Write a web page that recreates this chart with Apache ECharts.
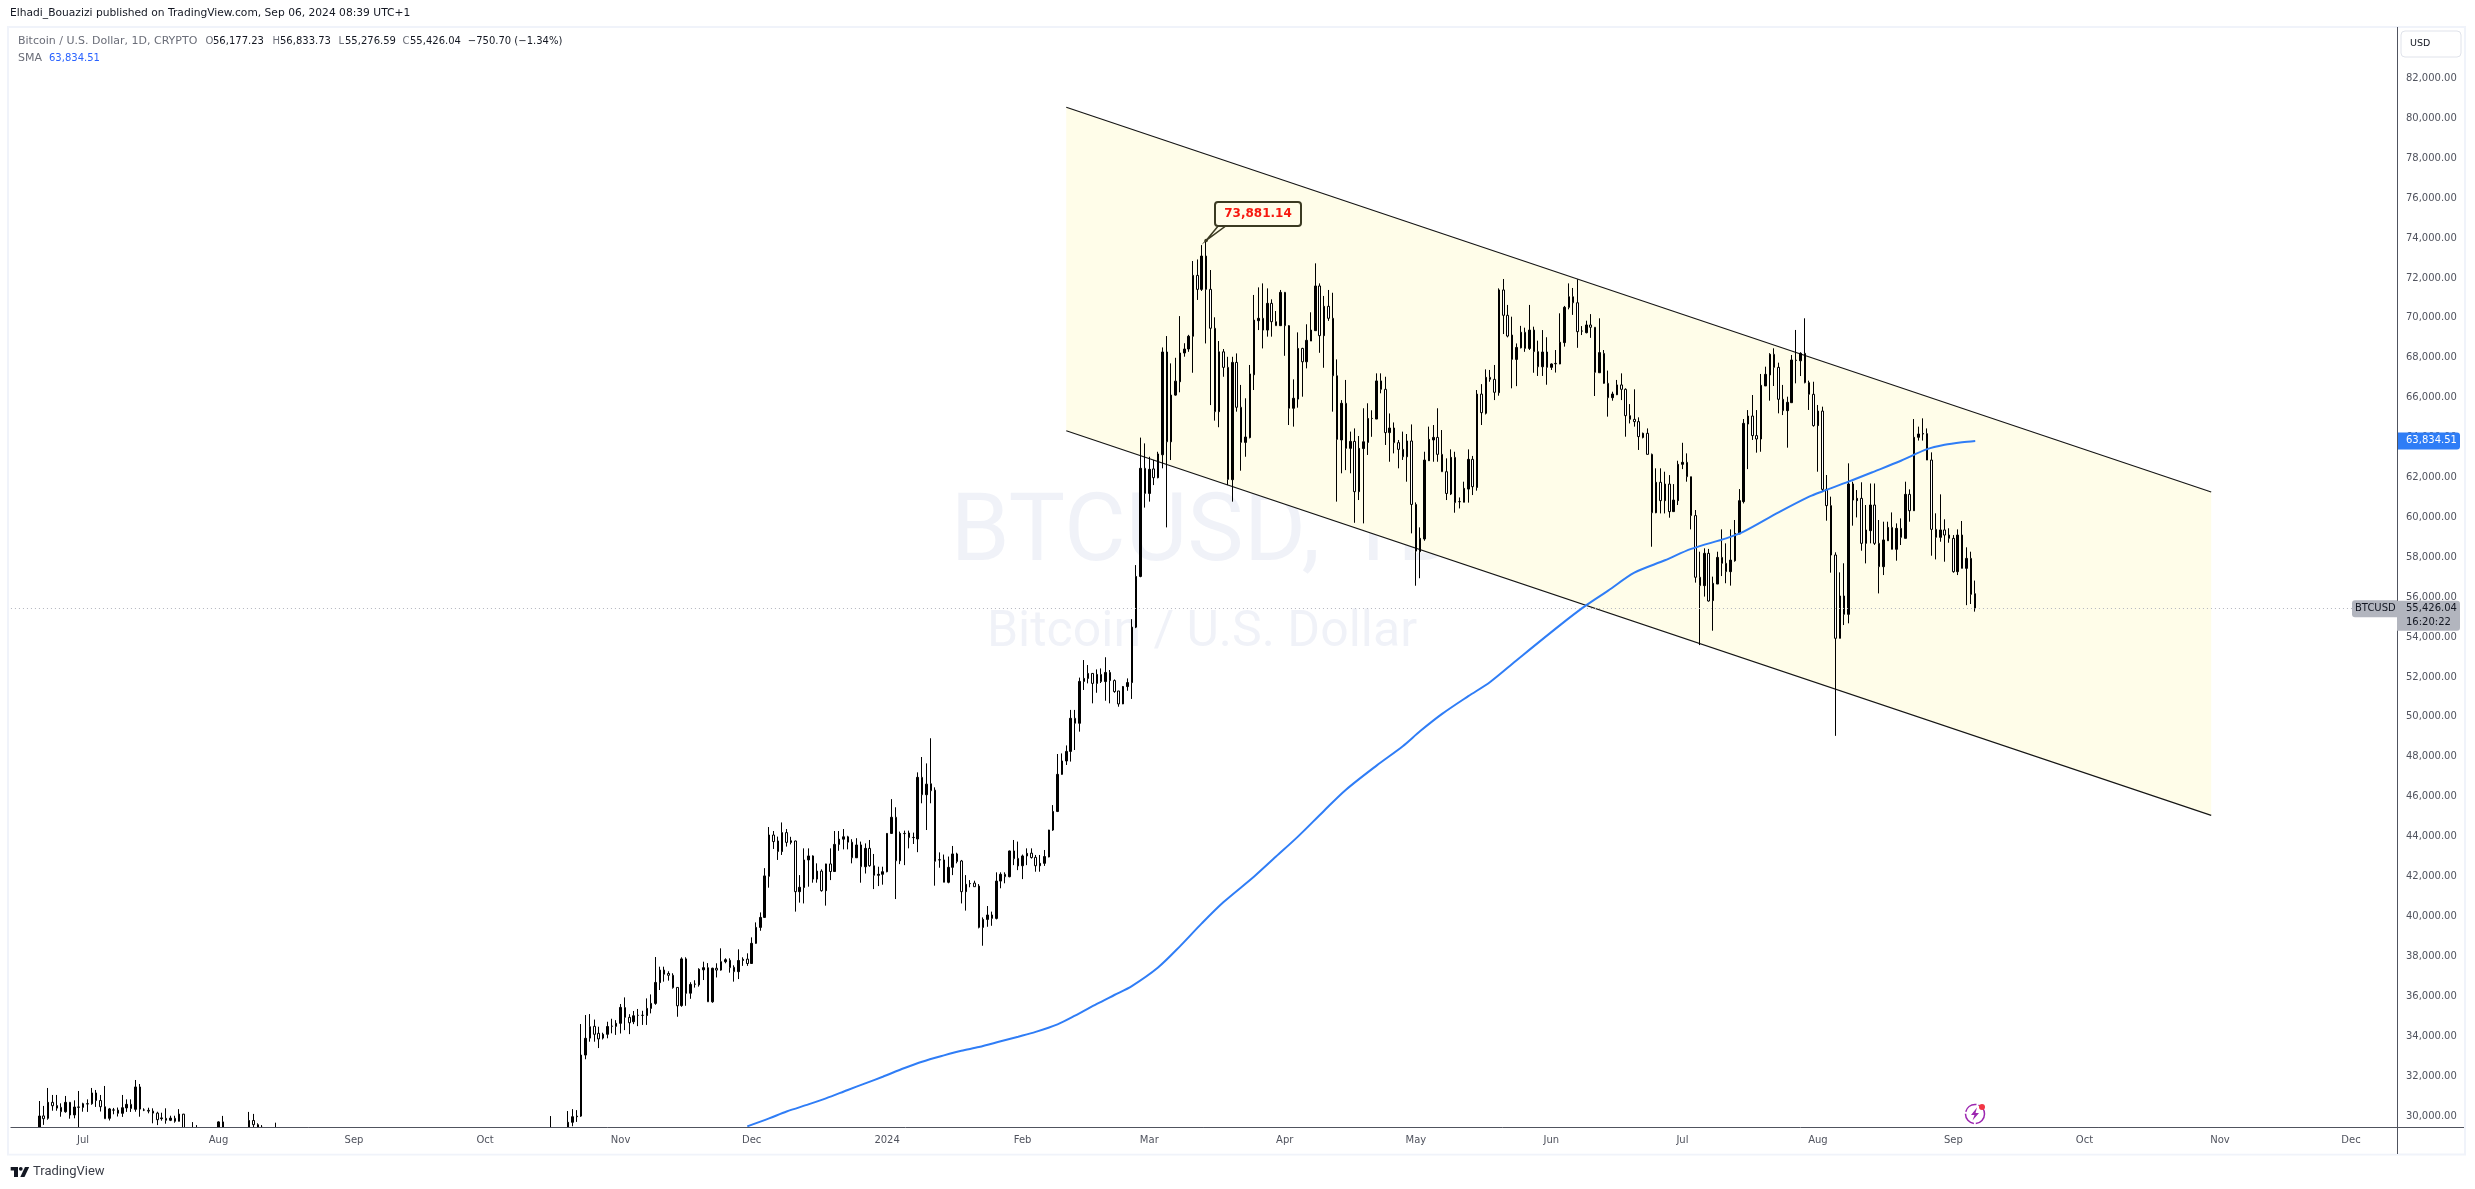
<!DOCTYPE html>
<html><head><meta charset="utf-8">
<style>html,body{margin:0;padding:0;background:#fff}#c{width:2475px;height:1189px}</style>
<script src="https://cdn.jsdelivr.net/npm/echarts@6/dist/echarts.min.js"></script>
</head><body><div id="c"></div>
<script>
// Each row: [open, high, low, close]
const jun23=[[28300,30747,28250,29995],[30000,30500,29550,29860],[29880,31400,29810,30680],[30680,31050,30260,30510],[30520,31050,30260,30390],[30430,30630,29960,30210],[30210,31000,30160,30680],[30680,30700,29860,30045],[30050,30780,29880,30445],[30450,31250,29400,30430]];
const jul23=[[30430,30660,30210,30610],[30600,30830,30200,30610],[30610,31400,30560,31150],[31150,31300,30450,30770],[30770,31050,30220,30460],[30460,31500,29860,29860],[29880,30400,29770,30350],[30300,30400,30080,30290],[30290,30420,29970,30130],[30130,31050,29950,30410],[30400,30830,30200,30580],[30580,30830,30200,30370],[30330,31800,30210,31450],[31450,31600,29960,30340],[30300,30380,30240,30290],[30280,30410,30130,30240],[30240,30380,29630,30140],[30140,30210,29540,29810],[29860,30160,29760,29900],[29880,30380,29610,29780],[29780,30010,29740,29890],[29880,30010,29660,29730],[29730,30340,29730,30090],[30090,30100,28900,29170]];
const julLate23=[[29220,29690,29090,29350],[29350,29540,29200,29210]];
const augA23=[[29000,29730,28600,29700],[29700,30000,28950,29170]];
const augB23=[[29180,30200,29120,29770],[29770,30100,29350,29560],[29560,29630,29320,29430],[29430,29540,29240,29400]];
const augC23=[[29170,29660,28700,29200]];
const octA23=[[28400,29993,28300,28500]];
const octB23=[[28700,30244,28600,29680],[29680,30340,29480,29960],[29960,30290,29700,29990],[29990,34605,29950,33050],[33050,35056,32840,33890],[33900,35105,33720,34470],[34490,34830,33720,34090],[34140,34470,33400,33860],[33900,34170,33830,34090],[34090,34720,33890,34480],[34500,34870,34140,34490],[34490,34800,34060,34640]];
const nov23=[[34640,35610,34130,35440],[35430,35940,34300,34940],[34940,35100,34100,34670],[34720,35260,34600,35020],[35040,35360,34500,35040],[35040,35270,34560,35040],[35030,35890,34560,35390],[35390,36090,35140,35640],[35640,37964,35570,36690],[36680,37480,36310,37310],[37310,37480,36730,37100],[37140,37250,36780,37050],[37050,37150,36380,36430],[36440,36450,34970,35520],[35530,37950,35470,37870],[37870,37950,35520,36140],[36150,36700,35870,36590],[36600,36800,36430,36610],[36570,37400,36480,37350],[37320,37730,36810,37430],[37430,37660,35720,35720],[35720,37430,35670,37400],[37400,37650,36940,37310],[37310,38400,37280,37730],[37730,37900,37650,37830],[37800,37900,37180,37430],[37450,37550,36730,37230],[37230,38350,36860,37790],[37790,37950,37520,37850],[37860,38150,37520,37640]];
const dec23=[[37640,38950,37640,38650],[38650,39700,38630,39450],[39450,40200,39280,39950],[39950,42420,39920,42030],[42010,44480,41440,44080],[44080,44280,43380,43750],[43780,44000,42830,43250],[43250,44710,43080,44200],[44200,44380,43500,43710],[43710,43990,43610,43790],[43780,43800,40240,41240],[41240,42070,40690,41460],[41450,43410,40650,42830],[42830,43410,41490,43030],[43030,43060,41690,41870],[41870,42660,41690,42270],[42270,42360,41240,41290],[41290,42640,40540,42630],[42630,43410,41820,42250],[42250,44280,42240,43610],[43610,44280,43290,43870],[43870,44380,43360,43990],[43990,44040,43360,43720],[43720,43870,42660,42940],[42940,43920,42930,43580],[43580,43750,41690,42490],[42490,43660,42150,43410],[43410,43830,42490,42540],[42540,43130,41370,42060],[42060,42490,41520,42110],[42110,42490,41590,42240]];
const jan24=[[42240,44170,42210,44160],[44160,45880,44130,44970],[44970,45470,40870,42790],[42790,44250,42620,44160],[44160,44300,42570,44150],[44180,44300,43410,43950],[43950,44200,43630,43960],[43880,47220,43220,46970],[46970,47990,45670,46100],[46100,47670,44330,46630],[46650,48930,45670,46300],[46330,46470,41540,42760],[42830,43210,42440,42840],[42830,43100,41710,41710],[41710,43000,41660,42460],[42460,43530,42070,43130],[43130,43190,42660,42750],[42780,42830,40650,41240],[41240,42070,40290,41610],[41640,41820,41460,41650],[41670,41790,41490,41490],[41520,41620,39400,39450],[39450,39950,38530,39850],[39850,40520,39480,40070],[40070,40240,39530,39900],[39900,42210,39850,41770],[41770,42210,41410,42110],[42110,42210,41660,41990],[41990,43300,41960,43280],[43280,43830,42570,42890],[42910,43750,42320,42530]];
const feb24=[[42540,43100,41870,43030],[43030,43410,42570,43160],[43170,43410,42900,42950],[42960,43080,42240,42540],[42540,43080,42240,42660],[42660,43330,42530,43000],[42980,44340,42960,44330],[44330,45580,44290,45260],[45260,48140,45230,47120],[47120,48170,47100,47790],[47790,48570,47590,48270],[48270,50350,47760,49930],[49930,50350,48340,49680],[49680,51970,49260,51780],[51780,52850,51350,51930],[51930,52600,51680,52180],[52180,52180,50680,51680],[51680,52380,51210,52130],[52130,52430,51700,51770],[51770,52990,50810,52230],[52230,52350,50680,51820],[51820,51880,51210,51270],[51300,51300,50510,50650],[50650,51550,50640,51520],[51520,51930,51310,51720],[51720,54900,50900,54500],[54500,57610,54450,57040],[57040,64000,57000,62460],[62460,63710,60490,61200]];
const mar24=[[61200,63040,60790,62410],[62430,62880,61620,61990],[61990,63290,61960,63180],[63140,68520,62460,68290],[68290,69090,59500,63790],[63790,67720,62875,66130],[66130,68000,66100,66830],[66800,70090,66270,68240],[68240,68730,68055,68440],[68440,69150,68300,69080],[69080,72850,67250,72130],[72130,72930,70900,71430],[71430,73650,71350,73100],[73100,73881.14,68720,71430],[71430,72400,65630,69480],[69480,70030,64850,65300],[65300,68840,64520,68300],[68300,68440,67050,67520],[67520,68050,61620,61905],[61890,68050,60790,67770],[67770,68220,65300,65520],[65520,66640,62340,63760],[63760,65970,63040,64030],[64000,67640,63960,67190],[67150,71150,66385,69890],[69860,71530,69390,69980],[69980,71730,68470,69390],[69390,71480,69060,70730],[70730,70930,69060,69810],[69810,70345,69610,69610],[69610,71400,69600,71280]];
const apr24=[[71280,71300,68100,69610],[69610,69640,64630,65470],[65470,66920,64550,65970],[65930,69275,65500,68470],[68470,68500,66050,67800],[67800,69680,67470,68875],[68840,70280,68840,69390],[69360,72735,69360,71600],[71600,71730,68250,69110],[69110,71100,67500,70580],[70580,71400,69850,69980],[69980,71260,65300,67100],[67100,67920,60790,63910],[63880,65880,62210,65720],[65720,66890,62370,63460],[63460,64300,62210,63810],[63810,64460,59730,61290],[61290,64080,60870,63460],[63450,65470,59700,63790],[63760,65720,63130,64960],[64960,65370,64040,64960],[64930,67220,64930,66840],[66840,67220,66220,66420],[66420,67050,63630,64250],[64250,65210,62790,64480],[64480,64760,63210,63745],[63745,63880,62460,63410],[63410,64300,62880,63040],[63040,64180,61790,63830],[63830,64660,59200,60650]];
const may24=[[60650,60750,56575,58310],[58280,59500,56950,58950],[58920,63290,58830,62875],[62840,64550,62840,63910],[63880,64630,62790,64010],[64010,65470,62790,63160],[63160,64380,62290,62290],[62290,62960,60870,61200],[61170,63410,61120,63010],[63010,63290,60235,60740],[60790,61000,60450,60790],[60760,61790,60760,61455],[61420,63410,60740,62910],[62910,63080,61120,61540],[61500,66385,61340,66180],[66180,66680,64630,65250],[65220,67420,65160,67020],[67020,67390,66800,66920],[66920,67640,65880,66270],[66250,71480,66100,71400],[71400,71950,69190,70130],[70130,70650,69025,69090],[69140,70060,66470,67920],[67920,68720,66580,68520],[68500,69600,68470,69280],[69280,69510,68300,68470],[68470,70650,68390,69390],[69390,69560,67250,68310],[68310,68860,67090,67550],[67550,69390,67090,68290],[68290,69030,66650,67520]];
const jun24=[[67520,67720,67390,67690],[67700,68390,67260,67720],[67690,70230,67680,68780],[68760,70600,68560,70530],[70530,71730,70430,71060],[71060,71500,70150,70760],[70760,71935,68500,69310],[69340,69590,69140,69340],[69260,69860,69225,69645],[69645,70190,69000,69530],[69530,69530,66085,67270],[67250,69980,67250,68260],[68220,68390,66700,66720],[66720,67360,65050,66000],[66000,66300,65850,66185],[66150,66890,66130,66640],[66640,67220,65880,66420],[66420,66470,64045,65100],[65100,65680,64710,64915],[64915,66420,64550,64800],[64800,65015,63380,64050],[64010,64250,63960,64215],[64215,64460,63160,63160],[63160,63200,58530,60235],[60235,62460,60210,61760],[61760,62460,60200,60840],[60840,62290,60200,61670],[61670,62120,59985,60290],[60290,61670,60280,60870],[60840,62840,60620,62660]];
const jul24=[[62660,63740,62420,62760],[62760,63210,61790,62040],[62040,62040,59400,60090],[60090,60370,56730,57000],[57000,58280,53600,56580],[56580,58450,56030,58200],[58200,58420,55780,55810],[55830,57030,54320,56695],[56660,58280,56660,57995],[57995,59400,57060,57700],[57700,58700,56700,57280],[57280,59400,56580,57860],[57830,59870,57780,59200],[59170,61420,59170,60840],[60790,64930,60700,64715],[64680,65380,62420,65080],[65080,66135,63880,64100],[64100,65380,63245,63930],[63930,67190,63290,66620],[66590,67555,66585,67170],[67140,68230,65850,68175],[68175,68475,66585,67520],[67520,67755,65215,65920],[65920,66640,65130,65350],[65350,66050,63495,65770],[65750,68140,65750,67890],[67870,69395,66720,67880],[67850,68275,67085,68225],[68225,69980,66720,66755],[66755,66855,65385,66170],[66170,66800,64550,64600]];
const aug24=[[64600,65635,62290,65330],[65330,65550,61290,61405],[61405,62125,59835,60590],[60590,61040,57230,58115],[58115,58250,49050,53940],[53940,57245,53940,56060],[56060,57700,54605,55140],[55140,62710,54690,61675],[61675,61790,59585,60870],[60840,61370,60000,60955],[60955,61760,58330,58700],[58700,60620,57695,59370],[59335,61700,58700,60620],[60620,61700,58620,58700],[58700,59870,56190,57530],[57530,59785,57110,58870],[58830,59785,58830,59500],[59500,60250,58400,58400],[58400,59700,57830,59450],[59450,59950,58615,59000],[58950,61790,58950,61155],[61155,61405,59785,60335],[60335,64930,60335,64015],[64015,64550,63850,64180],[64180,64965,63850,64200],[64200,64460,62875,62875],[62875,63260,58080,59400],[59400,60205,57895,59000],[59000,61155,58780,59370],[59370,59905,57780,59115],[59115,59455,58730,58950]];
const sep24=[[58950,59115,57230,57280],[57280,59400,57110,59115],[59116,59820,57445,57445],[57445,58500,55600,57946],[57946,58280,55658,56142],[56177.23,56833.73,55276.59,55426.04]];
const segmentStarts=['2023-06-21','2023-07-01','2023-07-26','2023-08-01','2023-08-08','2023-08-14','2023-10-16','2023-10-20','2023-11-01','2023-12-01','2024-01-01','2024-02-01','2024-03-01','2024-04-01','2024-05-01','2024-06-01','2024-07-01','2024-08-01','2024-09-01'];
const segmentRows=[jun23,jul23,julLate23,augA23,augB23,augC23,octA23,octB23,nov23,dec23,jan24,feb24,mar24,apr24,may24,jun24,jul24,aug24,sep24];

// SMA: day offset from 2023-06-21 and its price
const smaDay=[162,167,171,176,180,185,189,193,198,202,207,211,215,220,224,228,233,237,242,246,250,256,261,266,271,278,283,288,294,299,306,312,316,321,327,332,338,348,354,359,365,372,378,386,390,398,405,408,414,420,426,432,436,440,443];
const smaValue=[29475,29876,30220,30578,30878,31300,31630,31965,32400,32717,33035,33268,33450,33740,33970,34210,34590,35023,35610,36060,36510,37440,38500,39650,40720,42000,43000,44000,45300,46350,47560,48530,49290,50150,51040,51750,52830,54600,55600,56330,57230,57850,58420,58950,59284,60250,61039,61300,61790,62310,62840,63420,63640,63770,63834.51];

const channelDays=[235,497];
const channelUpper=[80556,61274];
const channelLower=[64346,45063];

const yTicks=[30000,32000,34000,36000,38000,40000,42000,44000,46000,48000,50000,52000,54000,56000,58000,60000,62000,64000,66000,68000,70000,72000,74000,76000,78000,80000,82000];
const xTickDates=['2023-07-01','2023-08-01','2023-09-01','2023-10-01','2023-11-01','2023-12-01','2024-01-01','2024-02-01','2024-03-01','2024-04-01','2024-05-01','2024-06-01','2024-07-01','2024-08-01','2024-09-01','2024-10-01','2024-11-01','2024-12-01'];
const xTickLabels=['Jul','Aug','Sep','Oct','Nov','Dec','2024','Feb','Mar','Apr','May','Jun','Jul','Aug','Sep','Oct','Nov','Dec'];

const lastPrice=55426.04, smaLast=63834.51, peakDate='2024-03-14', peakPrice=73881.14;

const DAY=86400000, firstDay=Date.UTC(2023,5,15), nCats=546;
const iso=t=>new Date(t).toISOString().slice(0,10);
const categories=[]; for(let i=0;i<nCats;i++) categories.push(iso(firstDay+i*DAY));
const idxOf=d=>categories.indexOf(d);
const firstBar=idxOf('2023-06-21');
const candleData=categories.map(()=>'-');
segmentStarts.forEach((s,j)=>{const b=idxOf(s);segmentRows[j].forEach((r,i)=>{candleData[b+i]=[r[0],r[3],r[2],r[1]];});});
const tickMap={}; xTickDates.forEach((d,i)=>tickMap[d]=xTickLabels[i]);
const fmt=v=>v.toLocaleString('en-US',{minimumFractionDigits:2,maximumFractionDigits:2});

const AXC='#50535e', FONT='"DejaVu Sans"';
const chart=echarts.init(document.getElementById('c'),null,{renderer:'canvas'});
const G={l:10.93,t:28,w:2386,h:1099};
chart.setOption({
  animation:false,
  backgroundColor:'#fff',
  grid:{left:G.l,top:G.t,width:G.w,height:G.h,containLabel:false},
  xAxis:{type:'category',data:categories,boundaryGap:true,z:60,
    axisLine:{lineStyle:{color:AXC,width:1}},axisTick:{show:false},splitLine:{show:false},
    axisLabel:{interval:(i,v)=>tickMap[v]!==undefined,formatter:v=>tickMap[v]||'',color:AXC,fontFamily:FONT,fontSize:10,margin:8,hideOverlap:false}},
  yAxis:{type:'value',position:'right',min:29444,max:84531,z:60,
    axisLine:{show:true,lineStyle:{color:AXC,width:1}},axisTick:{show:false},splitLine:{show:false},
    axisLabel:{customValues:yTicks,formatter:v=>fmt(v),color:AXC,fontFamily:FONT,fontSize:10,margin:9,align:'left'}},
  series:[
    {type:'custom',name:'channel',coordinateSystem:'cartesian2d',silent:true,z:1,
     data:[[firstBar+channelDays[0],channelUpper[0],channelLower[0],firstBar+channelDays[1],channelUpper[1],channelLower[1]]],
     encode:{x:0,y:1},
     renderItem:(p,api)=>{
       const a=api.coord([api.value(0),api.value(1)]),b=api.coord([api.value(0),api.value(2)]),
             c=api.coord([api.value(3),api.value(4)]),d=api.coord([api.value(3),api.value(5)]);
       return {type:'group',children:[
         {type:'polygon',shape:{points:[a,c,d,b]},style:{fill:'#fffde9',stroke:null}},
         {type:'line',shape:{x1:a[0],y1:a[1],x2:c[0],y2:c[1]},style:{stroke:'#151515',lineWidth:1.2}},
         {type:'line',shape:{x1:b[0],y1:b[1],x2:d[0],y2:d[1]},style:{stroke:'#151515',lineWidth:1.2}}
       ]};
     }},
    {type:'candlestick',name:'BTCUSD',data:candleData,barWidth:2,z:3,clip:true,silent:true,
     itemStyle:{color:'#000',color0:'#fff',borderColor:'#000',borderColor0:'#000',borderColorDoji:'#000',borderWidth:1},
     markLine:{silent:true,symbol:'none',label:{show:false},data:[{yAxis:lastPrice}],lineStyle:{color:'#b2b5be',type:[1,3],width:1}}},
    {type:'line',name:'SMA',data:smaDay.map((k,i)=>[firstBar+k,smaValue[i]]),showSymbol:false,smooth:0.3,z:4,silent:true,
     lineStyle:{color:'#2f7df6',width:2}}
  ]
});

const yPx=p=>chart.convertToPixel({yAxisIndex:0},p);
const xPx=d=>chart.convertToPixel({xAxisIndex:0},idxOf(d));
const txt=(x,y,text,fill,font,align,z)=>({type:'text',z:z===undefined?70:z,silent:true,style:{x,y,text,fill,font:font||('10px '+FONT),textAlign:align||'left',textVerticalAlign:'middle'}});
const rect=(x,y,w,h,fill,r,stroke,z,lw)=>({type:'rect',z:z||65,silent:true,shape:{x,y,width:w,height:h,r:r||0},style:{fill,stroke:stroke||null,lineWidth:lw||1}});
const line=(x1,y1,x2,y2,c,z)=>({type:'line',z:z||62,silent:true,shape:{x1,y1,x2,y2},style:{stroke:c,lineWidth:1}});
const GREY='#6a6d78', DARK='#131722', TAG='#b2b5be';
const HEAD='11px '+FONT;
const pkX=xPx(peakDate), pkY=yPx(peakPrice), smaY=yPx(smaLast), lastY=yPx(lastPrice);
const els=[
  // frame
  {type:'rect',z:-2,silent:true,shape:{x:8,y:27,width:2457,height:1127.5},style:{fill:'#fff',stroke:'#f0f3fa',lineWidth:2}},
  // watermark
  txt(1205,536,'BTCUSD, 1D','rgba(42,70,150,0.07)','95px Roboto','center',0),
  txt(1202,633,'Bitcoin / U.S. Dollar','rgba(42,70,150,0.07)','50px Roboto','center',0),
  // cover what hangs below the axis
  rect(9,1127.5,2388,26,'#fff',0,null,50),
  line(2397.5,27,2397.5,1154,AXC),
  line(2397,1127.5,2464,1127.5,AXC),
  // heading
  txt(10,13,'Elhadi_Bouazizi published on TradingView.com, Sep 06, 2024 08:39 UTC+1',DARK,'10.7px '+FONT),
  txt(18,41.5,'Bitcoin / U.S. Dollar, 1D, CRYPTO',GREY,HEAD),
  txt(205.6,41.5,'O',GREY),txt(213,41.5,'56,177.23',DARK),
  txt(272.4,41.5,'H',GREY),txt(280,41.5,'56,833.73',DARK),
  txt(338.5,41.5,'L',GREY),txt(345,41.5,'55,276.59',DARK),
  txt(402.5,41.5,'C',GREY),txt(410,41.5,'55,426.04',DARK),
  txt(467.8,41.5,'\u2212750.70 (\u22121.34%)',DARK),
  txt(18,58.5,'SMA',GREY,HEAD),txt(49,58.5,fmt(smaLast),'#2962ff'),
  // USD button
  rect(2401,31,60,26,'#fff',4,'#e0e3eb'),
  txt(2410,44,'USD',DARK,'9.5px '+FONT),
  // last price tags
  rect(2352,lastY-8.5,45,17,TAG,[3,0,0,3]),
  txt(2355,lastY,'BTCUSD',DARK),
  rect(2397,lastY-8,63,30,TAG,[0,3,3,0]),
  txt(2406,lastY,fmt(lastPrice),DARK),
  txt(2406,lastY+13.5,'16:20:22',DARK),
  // SMA tag
  rect(2398,smaY-8.5,62,17,'#2f7df6',[0,3,3,0]),
  txt(2406,smaY,fmt(smaLast),'#fff'),
  // peak callout
  {type:'polygon',z:66,silent:true,shape:{points:[[pkX,pkY],[1219,225],[1227,225]]},style:{fill:'#fffde9',stroke:'#3b3a22',lineWidth:1.5}},
  rect(1215,202,86,24,'#fffde9',3,'#3b3a22',67,2),
  {type:'circle',z:68,silent:true,shape:{cx:pkX,cy:pkY,r:1.8},style:{fill:'#3b3a22'}},
  txt(1258,214,fmt(peakPrice),'#f7170e','bold 12px '+FONT,'center'),
  // lightning badge
  {type:'circle',z:66,silent:true,shape:{cx:1975,cy:1114,r:9.5},style:{fill:'#fff',stroke:'#9c27b0',lineWidth:1.5,lineDash:[14,2]}},
  {type:'polygon',z:67,silent:true,shape:{points:[[1977,1107.5],[1971,1115],[1974.5,1115],[1972.5,1120.5],[1979,1113],[1975.5,1113]]},style:{fill:'#9c27b0'}},
  {type:'circle',z:68,silent:true,shape:{cx:1982,cy:1107,r:3},style:{fill:'#f23645'}},
  // TradingView mark
  {type:'polygon',z:66,silent:true,shape:{points:[[10.7,1167],[18,1167],[18,1177],[14,1177],[14,1170.5],[10.7,1170.5]]},style:{fill:'#131722'}},
  {type:'circle',z:66,silent:true,shape:{cx:20.8,cy:1168.8,r:1.9},style:{fill:'#131722'}},
  {type:'polygon',z:66,silent:true,shape:{points:[[25,1167],[29.2,1167],[24.5,1177],[20.3,1177]]},style:{fill:'#131722'}},
  txt(33,1172,'TradingView','#3a3d47','13px Roboto')
];
chart.setOption({graphic:{elements:els}});
</script></body></html>
